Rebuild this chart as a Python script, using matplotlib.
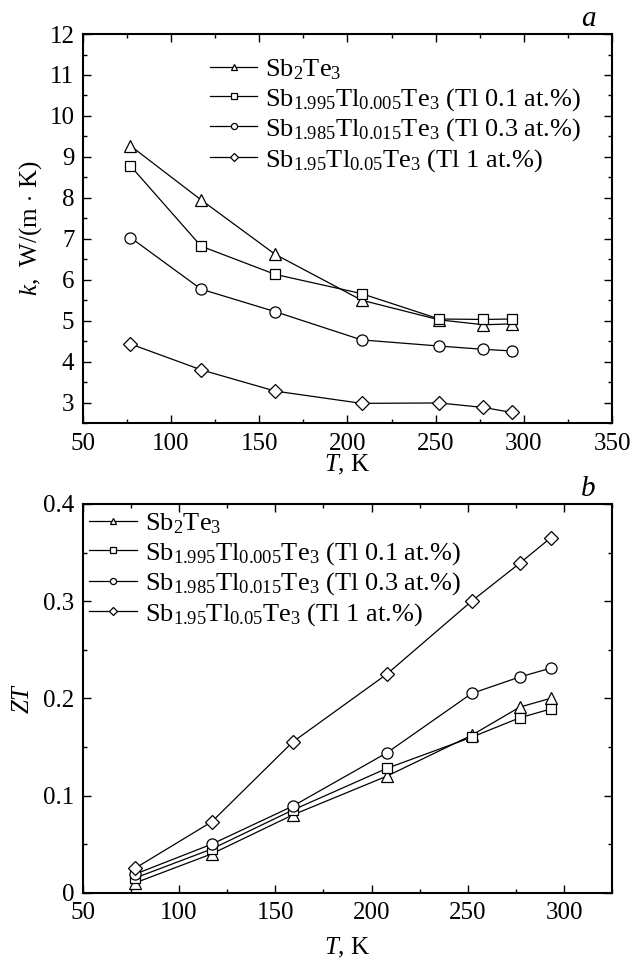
import matplotlib
matplotlib.use('Agg')
import matplotlib.pyplot as plt
from matplotlib.ticker import MultipleLocator

plt.rcParams['font.family'] = ['Liberation Serif', 'DejaVu Serif']
plt.rcParams['mathtext.fontset'] = 'custom'
plt.rcParams['mathtext.rm'] = 'Liberation Serif'
plt.rcParams['mathtext.it'] = 'Liberation Serif:italic'

# temperatures, K
T = [77, 117, 159, 208, 252, 277, 293]

labels = [r'Sb$_2$Te$_3$',
          r'Sb$_{1.995}$Tl$_{0.005}$Te$_3$ (Tl 0.1 at.%)',
          r'Sb$_{1.985}$Tl$_{0.015}$Te$_3$ (Tl 0.3 at.%)',
          r'Sb$_{1.95}$Tl$_{0.05}$Te$_3$ (Tl 1 at.%)']

# thermal conductivity k, W/(m K)
k_sb2te3 = [9.27, 7.95, 6.62, 5.50, 5.02, 4.90, 4.92]
k_tl01 = [8.78, 6.82, 6.13, 5.66, 5.04, 5.03, 5.04]
k_tl03 = [7.03, 5.77, 5.22, 4.53, 4.38, 4.30, 4.26]
k_tl1 = [4.43, 3.80, 3.28, 2.98, 2.99, 2.88, 2.76]

# figure of merit ZT
zt_sb2te3 = [0.010, 0.040, 0.080, 0.120, 0.162, 0.191, 0.200]
zt_tl01 = [0.015, 0.045, 0.085, 0.128, 0.160, 0.180, 0.189]
zt_tl03 = [0.019, 0.050, 0.089, 0.144, 0.205, 0.222, 0.231]
zt_tl1 = [0.025, 0.073, 0.155, 0.225, 0.300, 0.339, 0.365]

markers = ['^', 's', 'o', 'D']
msizes = [8.5, 7, 8, 7]

fig = plt.figure(figsize=(6.37, 9.59), dpi=100)
ax1 = fig.add_axes([0.130, 0.5589, 0.831, 0.4056])
ax2 = fig.add_axes([0.130, 0.0691, 0.831, 0.4054])


def style(ax):
    for s in ax.spines.values():
        s.set_linewidth(1.5)
    ax.tick_params(which='both', direction='in', top=True, right=True,
                   labelsize=18, width=1.0)
    ax.tick_params(which='major', length=6)
    ax.tick_params(which='minor', length=3)
    ax.tick_params(axis='x', which='major', pad=7)
    ax.tick_params(axis='y', which='major', pad=6)


for ax, series in [(ax1, [k_sb2te3, k_tl01, k_tl03, k_tl1]),
                   (ax2, [zt_sb2te3, zt_tl01, zt_tl03, zt_tl1])]:
    for y, m, ms, lab in zip(series, markers, msizes, labels):
        ax.plot(T, y, color='black', lw=0.9, marker=m, ms=ms,
                mfc='white', mec='black', mew=0.9, label=lab)
    style(ax)

legend_kw = dict(loc='upper left', frameon=False, fontsize=19,
                 borderaxespad=0, borderpad=0, handlelength=1.8,
                 handletextpad=0.3, labelspacing=0.14, markerscale=0.55)

ax1.set_xlim(50, 350)
ax1.set_ylim(2.5, 12)
ax1.xaxis.set_major_locator(MultipleLocator(50))
ax1.xaxis.set_minor_locator(MultipleLocator(25))
ax1.yaxis.set_major_locator(MultipleLocator(1))
ax1.yaxis.set_minor_locator(MultipleLocator(0.5))
ax1.set_xlabel(r'$T$, K', fontsize=18, labelpad=-1)
ax1.set_ylabel(r'$k$,  W/(m$\,\cdot\,$K)', fontsize=18, labelpad=4)
ax1.text(0.955, 1.005, 'a', transform=ax1.transAxes, fontsize=21,
         style='italic', ha='center', va='bottom')
ax1.legend(bbox_to_anchor=(0.24, 0.94), **legend_kw)

ax2.set_xlim(50, 325)
ax2.set_ylim(0, 0.4)
ax2.xaxis.set_major_locator(MultipleLocator(50))
ax2.xaxis.set_minor_locator(MultipleLocator(25))
ax2.yaxis.set_major_locator(MultipleLocator(0.1))
ax2.yaxis.set_minor_locator(MultipleLocator(0.05))
ax2.set_yticks([0, 0.1, 0.2, 0.3, 0.4])
ax2.set_yticklabels(['0', '0.1', '0.2', '0.3', '0.4'])
ax2.set_xlabel(r'$T$, K', fontsize=18, labelpad=8)
ax2.set_ylabel(r'$ZT$', fontsize=18, labelpad=7)
ax2.text(0.955, 1.005, 'b', transform=ax2.transAxes, fontsize=21,
         style='italic', ha='center', va='bottom')
ax2.legend(bbox_to_anchor=(0.012, 0.98), **legend_kw)

fig.savefig('out.png', dpi=100)
